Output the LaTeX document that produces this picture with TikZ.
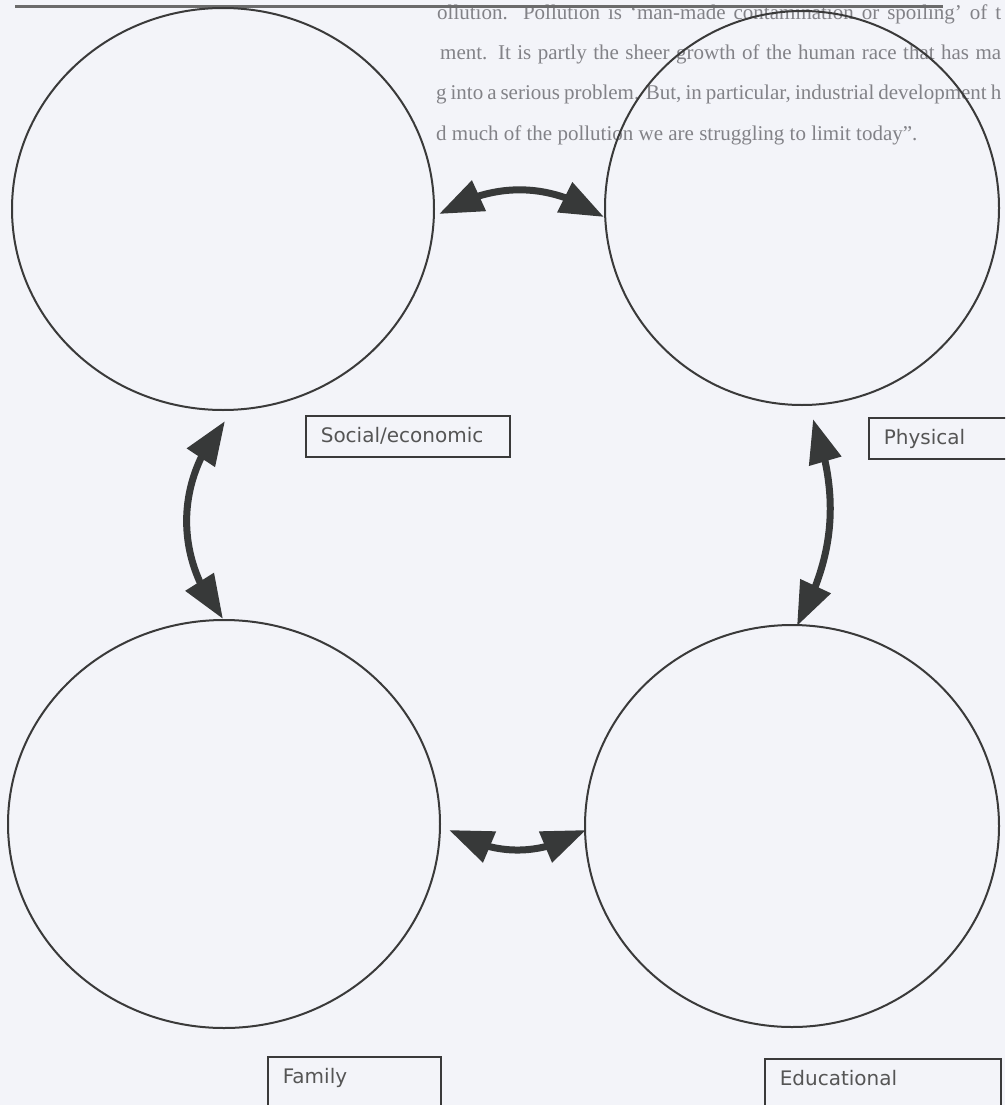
\documentclass[tikz,border=0pt]{standalone}
\usepackage{fontspec}
\setmainfont{Liberation Serif}
\newfontfamily\labelfont{DejaVu Sans}
\usetikzlibrary{shapes.geometric,arrows.meta,bending,calc}
\definecolor{paper}{RGB}{243,244,249}
\definecolor{ink}{RGB}{58,58,58}
\definecolor{arrowink}{RGB}{55,57,57}
\definecolor{pagetext}{RGB}{130,130,135}
\definecolor{labeltext}{RGB}{85,85,85}
\tikzset{
  ring/.style={draw=ink, line width=2pt, ellipse, inner sep=0pt},
  labelbox/.style={draw=ink, line width=1.6pt, anchor=north west, font=\labelfont\fontsize{20}{24}\selectfont,
    text=labeltext, inner xsep=15pt, inner ysep=0pt, align=left},
  dblarrow/.style={draw=arrowink, line width=7pt,
    {Triangle[length=44pt,width=32pt]}-{Triangle[length=44pt,width=32pt]}},
  pageline/.style={anchor=base west, text=pagetext, font=\fontsize{21}{25}\selectfont, inner sep=0pt}
}
\begin{document}
\begin{tikzpicture}[x=1pt,y=-1pt]
\useasboundingbox (0,0) rectangle (1005,1105);
\fill[paper] (0,0) rectangle (1005,1105);
\begin{scope}
\clip (0,0) rectangle (1005,1105);
% page text seen through the scan
\node[pageline] (p1) at (437,20) {\makebox[564pt][s]{ollution. Pollution is ‘man-made contamination or spoiling’ of t}};
\node[pageline] (p2) at (440,60) {\makebox[561pt][s]{ment. It is partly the sheer growth of the human race that has ma}};
\node[pageline] (p3) at (436,100) {\makebox[565pt][s]{g into a serious problem. But, in particular, industrial development h}};
\node[pageline] (p4) at (436,140) {d much of the pollution we are struggling to limit today”.};
\draw[line width=3pt, draw=black!58] (15,7) -- (943,7);

% circles
\node[ring, minimum width=422pt, minimum height=402pt] (tl) at (223,209) {};
\node[ring, minimum width=394pt, minimum height=394pt] (tr) at (802,208) {};
\node[ring, minimum width=432pt, minimum height=408pt] (bl) at (224,824) {};
\node[ring, minimum width=414pt, minimum height=402pt] (br) at (792,826) {};

% labels
\node[labelbox, text width=174pt, text height=27pt, text depth=14pt] (lsoc) at (305,415) {Social/economic};
\node[labelbox, text width=110pt, text height=27pt, text depth=14pt] (lphy) at (868,417) {Physical};
\node[labelbox, text width=143pt, text height=27pt, text depth=40pt] (lfam) at (267,1056) {Family};
\node[labelbox, text width=206pt, text height=27pt, text depth=40pt] (ledu) at (764,1058) {Educational};

% arrow end points
\coordinate (a1) at ($(tl.east)+(4,5)$);
\coordinate (a2) at ($(tr.west)+(0,9)$);
\coordinate (b1) at ($(tl.south)+(2,10)$);
\coordinate (b2) at ($(bl.north)+(-1,0)$);
\coordinate (c1) at ($(tr.south)+(11,13)$);
\coordinate (c2) at ($(br.north)+(5,2)$);
\coordinate (d1) at ($(bl.east)+(8,6)$);
\coordinate (d2) at ($(br.west)+(2,4)$);

\draw[dblarrow] (a1) to[bend left=32] (a2);
\draw[dblarrow] (b1) to[bend right=40] (b2);
\draw[dblarrow] (c1) to[bend left=24] (c2);
\draw[dblarrow] (d1) to[bend right=30] (d2);
\end{scope}
\end{tikzpicture}
\end{document}
